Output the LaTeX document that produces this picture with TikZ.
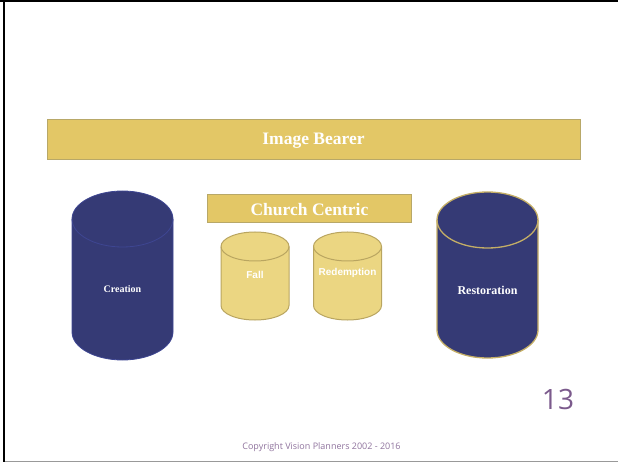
\documentclass[tikz,border=0pt]{standalone}
\usepackage{fontspec}
\setmainfont{Liberation Serif}
\newfontfamily\barrelfont{Liberation Sans}
\newfontfamily\slidefont{Open Sans}
\definecolor{deepblue}{RGB}{53,58,117}
\definecolor{deeprim}{RGB}{62,70,146}
\definecolor{barfill}{RGB}{227,199,102}
\definecolor{barline}{RGB}{184,168,104}
\definecolor{palefill}{RGB}{235,214,130}
\definecolor{paleline}{RGB}{185,165,96}
\definecolor{goldrim}{RGB}{196,174,102}
\definecolor{slidepurple}{RGB}{123,90,140}
\tikzset{
  bar/.style={fill=barfill, draw=barline, line width=1pt},
  bar text/.style={text=white, font=\bfseries\fontsize{17.5}{19}\selectfont},
  creation/.style={fill=deepblue, draw=deeprim, line width=0.8pt},
  creation text/.style={text=white, font=\bfseries\fontsize{10}{11}\selectfont},
  restoration/.style={fill=deepblue, draw=goldrim, line width=1.3pt},
  restoration text/.style={text=white, font=\bfseries\fontsize{12}{13}\selectfont},
  pale/.style={fill=palefill, draw=paleline, line width=1pt},
  pale text/.style={text=white, font=\barrelfont\bfseries\fontsize{10}{11}\selectfont},
}
\newcommand{\drawbar}[6]{
  \draw[bar] (#2,#3) rectangle (#4,#5);
  \node[bar text] (#1) at ({(#2+#4)/2},{(#3+#5)/2+1}) {#6};
}
\newcommand{\drawbarrel}[9]{
  \filldraw[#7] (#2-#5,#3+#6) -- (#2-#5,#4-#6)
    arc[start angle=180, end angle=0, x radius=#5, y radius=#6]
    -- (#2+#5,#3+#6)
    arc[start angle=0, end angle=-180, x radius=#5, y radius=#6] -- cycle;
  \draw[#7, fill=none] (#2-#5,#3+#6)
    arc[start angle=180, end angle=0, x radius=#5, y radius=#6];
  \node[#7 text] (#1) at (#2,#8) {#9};
}

\begin{document}
\begin{tikzpicture}[x=1pt, y=-1pt]
  \useasboundingbox (0,0) rectangle (618,462);
  % slide frame
  \fill[black] (0,0) rectangle (618,2.3);
  \fill[black] (3.3,0) rectangle (5.3,462);
  \draw[gray!80, line width=1pt] (5.3,461) -- (618,461);

  \drawbar{imagebearer}{47}{119.5}{580}{159.5}{Image Bearer}
  \drawbar{churchcentric}{207.5}{195}{411.5}{223}{Church Centric}

  \drawbarrel{creation}{122.5}{191}{360}{50.5}{28}{creation}{289}{Creation}
  \drawbarrel{restoration}{487.5}{192}{358}{50.5}{28}{restoration}{290}{Restoration}
  \drawbarrel{fall}{255}{232}{320}{34}{14.5}{pale}{275}{Fall}
  \drawbarrel{redemption}{347.5}{232}{320}{34}{14.5}{pale}{273}{Redemption}

  \node[text=slidepurple, font=\slidefont\fontsize{28}{30}\selectfont] (pagenum) at (558,399) {13};
  \node[text=slidepurple!85, font=\slidefont\fontsize{9}{10}\selectfont] (copyright) at (321.5,447) {Copyright Vision Planners 2002 - 2016};
\end{tikzpicture}
\end{document}
